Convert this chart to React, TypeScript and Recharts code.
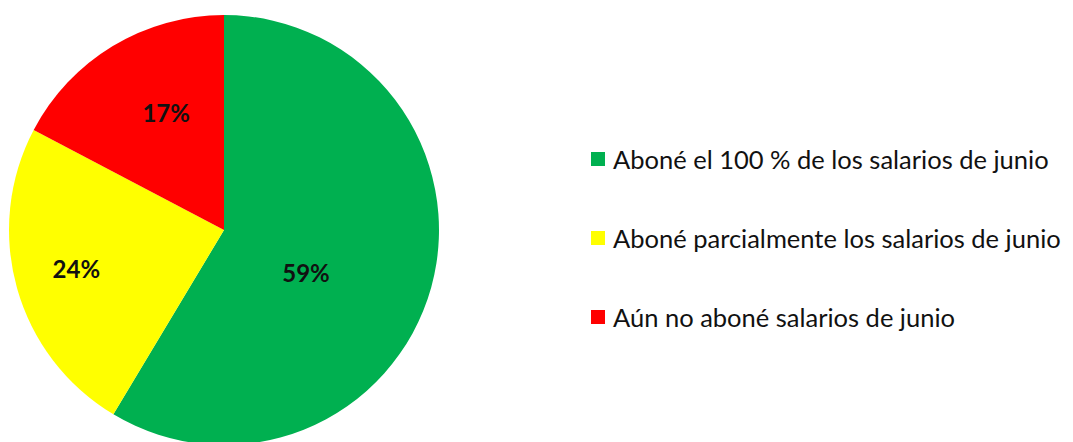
import React from 'react';
import { PieChart, Pie, Cell, Legend } from 'recharts';

const categories = [
  'Aboné el 100 % de los salarios de junio',
  'Aboné parcialmente los salarios de junio',
  'Aún no aboné salarios de junio',
];
const shares = [58.6, 24.1, 17.3];
const shareLabels = ['59%', '24%', '17%'];

const COLORS = ['#00B050', '#FFFF00', '#FF0000'];
const FONT = 'Lato, "Open Sans", sans-serif';

const data = categories.map((name, i) => ({ name, value: shares[i], label: shareLabels[i] }));

// Excel "best fit" label placement: distance from centre (share of radius) and small angle tweak
const labelRadius = [0.43, 0.71, 0.61];
const labelAngleShift = [-12, -1, -5];

const RADIAN = Math.PI / 180;

const renderLabel = (props: any) => {
  const { cx, cy, midAngle, outerRadius, index } = props;
  const a = (midAngle + labelAngleShift[index]) * RADIAN;
  const r = outerRadius * labelRadius[index];
  const x = cx + r * Math.cos(a);
  const y = cy - r * Math.sin(a);
  return (
    <text
      x={x}
      y={y}
      textAnchor="middle"
      dominantBaseline="central"
      fill="#111"
      fontFamily={FONT}
      fontWeight={700}
      fontSize={24}
    >
      {data[index].label}
    </text>
  );
};

const renderLegend = () => (
  <div style={{ fontFamily: FONT }}>
    {data.map((d, i) => (
      <div
        key={d.name}
        style={{ display: 'flex', alignItems: 'center', height: 79 }}
      >
        <span
          style={{
            display: 'inline-block',
            width: 14,
            height: 14,
            background: COLORS[i],
            marginRight: 8,
          }}
        />
        <span style={{ fontSize: 25.5, color: '#111', whiteSpace: 'nowrap' }}>{d.name}</span>
      </div>
    ))}
  </div>
);

export default function App() {
  return (
    <div style={{ position: 'absolute', left: 0, top: 0, background: '#fff' }}>
      <PieChart width={1073} height={442} margin={{ top: 0, right: 0, bottom: 0, left: 0 }}>
        <Pie
          data={data}
          dataKey="value"
          nameKey="name"
          cx={224}
          cy={230}
          outerRadius={215}
          startAngle={90}
          endAngle={-270}
          stroke="none"
          labelLine={false}
          label={renderLabel}
          isAnimationActive={false}
        >
          {data.map((d, i) => (
            <Cell key={d.name} fill={COLORS[i]} />
          ))}
        </Pie>
        <Legend
          content={renderLegend}
          layout="vertical"
          wrapperStyle={{ left: 591, top: 119, width: 482 }}
        />
      </PieChart>
    </div>
  );
}
